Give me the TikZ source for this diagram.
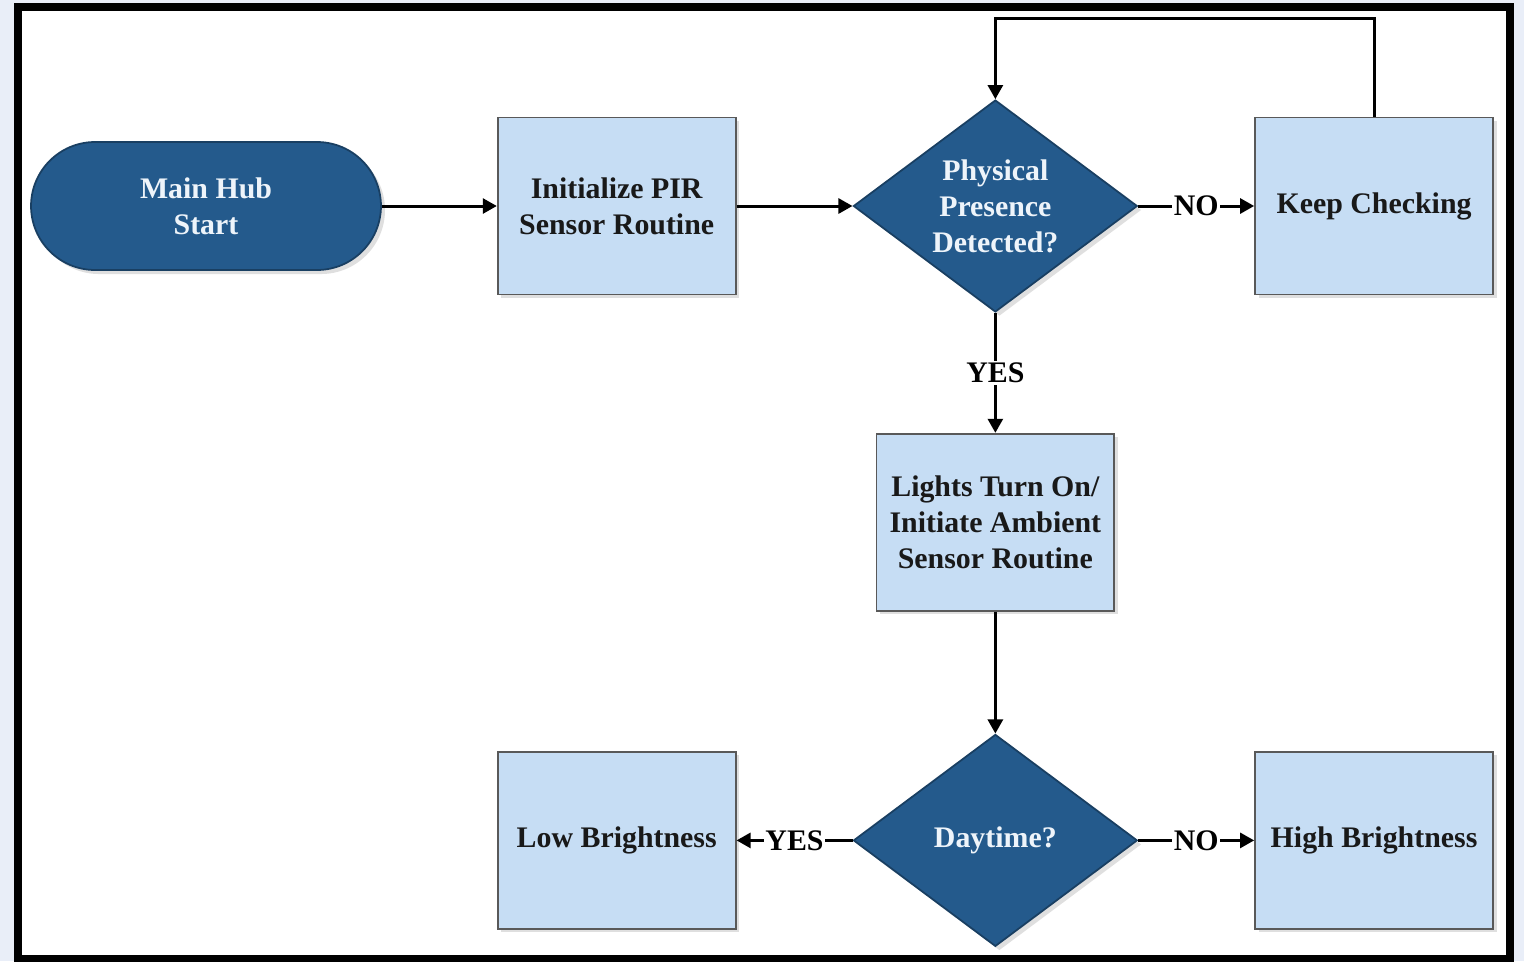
\documentclass[tikz,border=0pt]{standalone}
\usepackage{fontspec}
\setmainfont{Liberation Serif}
\usepackage{xcolor}
\usetikzlibrary{arrows.meta,positioning,shapes.geometric,shadows,calc}
\definecolor{hubblue}{HTML}{245A8C}
\definecolor{boxblue}{HTML}{C6DDF4}
\definecolor{pagebg}{HTML}{E9EEF8}
\definecolor{textlight}{HTML}{EEF4FA}
\tikzset{
  % light process boxes
  procbox/.style={rectangle,draw=gray!70!black,line width=1pt,fill=boxblue,
                  minimum width=4.76cm,minimum height=3.54cm,align=center,
                  text=black!90,drop shadow={shadow xshift=2pt,shadow yshift=-2pt,opacity=.25}},
  % terminal and decisions
  hubstart/.style={rectangle,rounded corners=1.28cm,draw=hubblue!70!black,line width=1pt,
                   fill=hubblue,minimum width=7cm,minimum height=2.56cm,
                   align=center,text=textlight,drop shadow={opacity=.25}},
  decide/.style={diamond,aspect=1.34,inner sep=0pt,draw=hubblue!70!black,line width=1pt,
                 fill=hubblue,minimum width=5.68cm,minimum height=4.24cm,
                 align=center,text=textlight,drop shadow={opacity=.25}},
  % connectors
  flow/.style={line width=1.7pt,-{Triangle[length=8pt,width=8.5pt]}},
  answer/.style={fill=white,inner sep=1pt},
}

\begin{document}
\begin{tikzpicture}[
  x=0.02cm,y=-0.02cm,
  every node/.style={font=\fontsize{17}{20.5}\selectfont\bfseries},
]
\useasboundingbox (0,0) rectangle (1524,961);
\fill[pagebg] (0,0) rectangle (1524,961);
\draw[line width=4.5pt,fill=white] (18,7) rectangle (1510,959);

\node[hubstart] (start) at (206,206) {Main Hub\\Start};
\node[procbox,right=2.30cm of start] (init) {Initialize PIR\\Sensor Routine};
\node[decide,right=2.32cm of init] (presence) {Physical\\Presence\\Detected?};
\node[procbox,right=2.32cm of presence] (keep) {Keep Checking};
\node[procbox,below=2.40cm of presence] (lights) {Lights Turn On/\\Initiate Ambient\\Sensor Routine};
\node[decide,below=2.44cm of lights] (daytime) {Daytime?};
\node[procbox,left=2.32cm of daytime] (low) {Low Brightness};
\node[procbox,right=2.32cm of daytime] (high) {High Brightness};

\coordinate (looptop) at ($(keep.north)+(0,1.96cm)$);

\draw[flow] (start) -- (init);
\draw[flow] (init) -- (presence);
\draw[flow] (presence) -- node[answer]{NO} (keep);
\draw[flow] (keep.north) -- (looptop) -| (presence.north);
\draw[flow] (presence) -- node[answer]{YES} (lights);
\draw[flow] (lights) -- (daytime);
\draw[flow] (daytime) -- node[answer]{YES} (low);
\draw[flow] (daytime) -- node[answer]{NO} (high);
\end{tikzpicture}
\end{document}
